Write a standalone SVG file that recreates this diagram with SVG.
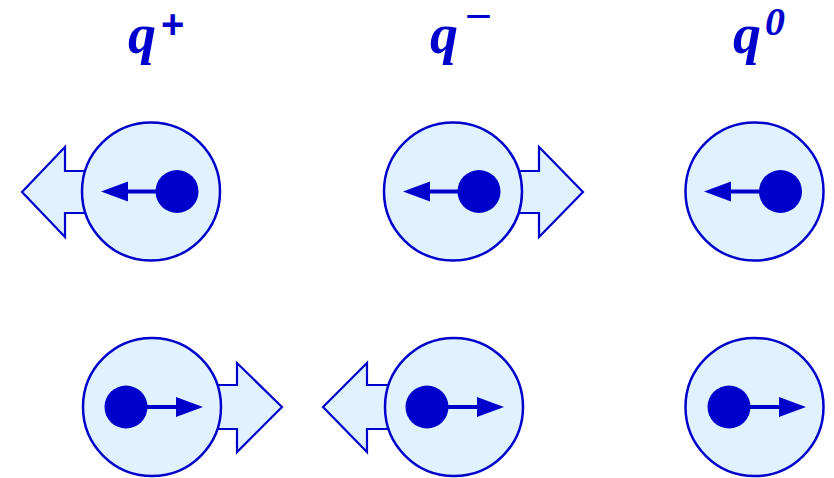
<svg xmlns="http://www.w3.org/2000/svg" width="834" height="478" viewBox="0 0 834 478">
<defs>
<style>
.big{fill:#e0f2ff;stroke:#0000cc;stroke-width:2.2;stroke-linejoin:miter}
.ball{fill:#e0f2ff;stroke:#0000cc;stroke-width:2.5}
.dot{fill:#0000cc}
.spin{stroke:#0000cc;stroke-width:4;fill:none}
.head{fill:#0000cc}
.q{font-family:"Liberation Serif",serif;font-weight:bold;font-style:italic;font-size:56px;fill:#0000cc}
.sup{font-family:"Liberation Sans",sans-serif;font-weight:bold;font-size:40px;fill:#0000cc}
.supi{font-family:"Liberation Serif",serif;font-weight:bold;font-style:italic;font-size:40px;fill:#0000cc}
</style>
</defs>
<rect width="834" height="478" fill="#ffffff"/>
<g id="labels">
<text class="q" x="128" y="53">q</text><text class="sup" x="161" y="38">+</text>
<text class="q" x="430" y="53">q</text><text class="sup" transform="translate(467,26) scale(1.6,1)" x="-1" y="0" style="font-size:28px">−</text>
<text class="q" x="733" y="53">q</text><text class="supi" x="765" y="35">0</text>
</g>
<g id="connectors">
<polygon class="big" points="22,192 65,147 65,171 110,171 110,213 65,213 65,237"/>
<polygon class="big" points="583,192 539,147 539,171 500,171 500,213 539,213 539,237"/>
<polygon class="big" points="282,407 237,363 237,385 200,385 200,429 237,429 237,452"/>
<polygon class="big" points="323,407 367,363 367,385 405,385 405,429 367,429 367,452"/>
</g>
<g id="node-plus-top">
<circle class="ball" cx="151" cy="191.5" r="69"/>
<line class="spin" x1="177" y1="191.5" x2="125" y2="191.5"/>
<polygon class="head" points="101,191.5 128,181.5 128,201.5"/>
<circle class="dot" cx="177" cy="191.5" r="21.5"/>
</g>
<g id="node-minus-top">
<circle class="ball" cx="453" cy="191.5" r="69"/>
<line class="spin" x1="479" y1="191.5" x2="427" y2="191.5"/>
<polygon class="head" points="403,191.5 430,181.5 430,201.5"/>
<circle class="dot" cx="479" cy="191.5" r="21.5"/>
</g>
<g id="node-zero-top">
<circle class="ball" cx="754.5" cy="191.5" r="69"/>
<line class="spin" x1="780" y1="191.5" x2="728" y2="191.5"/>
<polygon class="head" points="704,191.5 731,181.5 731,201.5"/>
<circle class="dot" cx="780.5" cy="191.5" r="21.5"/>
</g>
<g id="node-plus-bottom">
<circle class="ball" cx="152" cy="407" r="69"/>
<line class="spin" x1="126" y1="407" x2="178" y2="407"/>
<polygon class="head" points="203,407 176,397 176,417"/>
<circle class="dot" cx="126" cy="407" r="21.5"/>
</g>
<g id="node-minus-bottom">
<circle class="ball" cx="454" cy="407" r="69"/>
<line class="spin" x1="427" y1="407" x2="479" y2="407"/>
<polygon class="head" points="504,407 477,397 477,417"/>
<circle class="dot" cx="427" cy="407" r="21.5"/>
</g>
<g id="node-zero-bottom">
<circle class="ball" cx="754.5" cy="407" r="69"/>
<line class="spin" x1="729" y1="407" x2="781" y2="407"/>
<polygon class="head" points="806,407 779,397 779,417"/>
<circle class="dot" cx="729" cy="407" r="21.5"/>
</g>
</svg>
